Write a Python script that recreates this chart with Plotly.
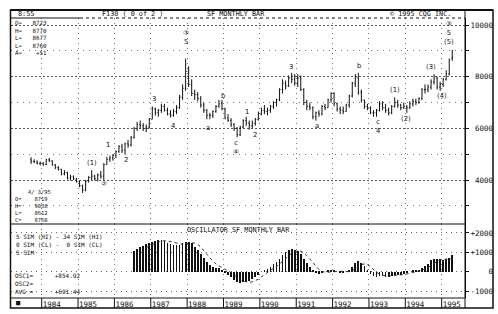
import plotly.graph_objects as go
import pandas as pd

W, H = 498, 314

# ---------------- data ----------------
months = pd.period_range("1983-09", "1995-04", freq="M")

opens = [4780, 4720, 4700, 4640,
         4650, 4600, 4780, 4740, 4580, 4480, 4420, 4240, 4300, 4080, 4120, 4050,
         3940, 3780, 3620, 3950, 4100, 4150, 4050, 4200, 4150, 4600, 4800, 4850,
         4950, 5100, 5300, 5150, 5400, 5350, 5650, 6000, 6150, 6100, 6000, 6050,
         6350, 6750, 6600, 6700, 6850, 6700, 6550, 6500, 6650, 6800, 7200, 7550,
         8200, 7700, 7350, 7300, 7150, 6900, 6700, 6500, 6500, 6650, 6850, 6950,
         6750, 6400, 6300, 6150, 6000, 5750, 6050, 6300, 6200, 6100, 6200, 6350,
         6550, 6700, 6650, 6700, 6850, 7000, 7100, 7500, 7750, 7650, 7950, 7900,
         7750, 7950, 7500, 7000, 6850, 6800, 6450, 6600, 6550, 6850, 6800, 7100,
         7350, 6950, 6750, 6700, 6650, 6900, 7250, 7750, 7950, 7400, 7100, 6850,
         6800, 6600, 6600, 6700, 6950, 6800, 6700, 6600, 6850, 7000, 6900, 6800,
         6850, 6800, 6950, 7050, 7000, 7150, 7500, 7500, 7600, 7800, 7950, 7600,
         7700, 7900, 8100, 8719]
highs = [4880, 4800, 4760, 4720,
         4700, 4820, 4860, 4760, 4620, 4540, 4430, 4380, 4320, 4200, 4180, 4080,
         3980, 3820, 4000, 4150, 4380, 4200, 4250, 4350, 4650, 4900, 4950, 5000,
         5150, 5350, 5400, 5450, 5550, 5700, 6050, 6250, 6300, 6200, 6150, 6400,
         6850, 6800, 6750, 6950, 6950, 6800, 6700, 6750, 6900, 7300, 7700, 8700,
         8400, 7900, 7500, 7400, 7250, 7000, 6750, 6600, 6700, 6900, 7100, 7100,
         6800, 6550, 6400, 6200, 6050, 6100, 6350, 6450, 6300, 6300, 6400, 6650,
         6800, 6900, 6800, 6900, 7050, 7150, 7550, 7900, 7850, 8050, 8150, 8100,
         8100, 8050, 7550, 7100, 7000, 6850, 6650, 6700, 6900, 6950, 7150, 7400,
         7400, 7000, 6850, 6850, 6950, 7300, 7800, 8100, 8150, 7500, 7100, 6950,
         6850, 6700, 6750, 7050, 7050, 6950, 6800, 6900, 7200, 7100, 6950, 7000,
         6900, 7050, 7150, 7150, 7200, 7550, 7700, 7700, 7900, 8100, 8000, 7800,
         7950, 8250, 8700, 9038]
lows = [4620, 4650, 4600, 4560,
        4550, 4580, 4700, 4560, 4420, 4360, 4180, 4180, 4020, 3980, 4000, 3900,
        3720, 3500, 3560, 3900, 4000, 3980, 3950, 4050, 4000, 4600, 4700, 4750,
        4850, 5050, 5050, 5000, 5250, 5300, 5600, 5900, 6000, 5900, 5850, 6000,
        6350, 6500, 6450, 6600, 6650, 6500, 6420, 6450, 6550, 6750, 7100, 7450,
        7600, 7250, 7100, 7050, 6800, 6600, 6350, 6350, 6400, 6600, 6800, 6700,
        6350, 6250, 6050, 5900, 5650, 5700, 6000, 6100, 5950, 6000, 6100, 6300,
        6500, 6550, 6500, 6600, 6750, 6850, 7050, 7350, 7500, 7600, 7750, 7650,
        7600, 7450, 6900, 6700, 6700, 6350, 6300, 6450, 6500, 6700, 6800, 7000,
        6850, 6650, 6550, 6550, 6650, 6800, 7200, 7600, 7300, 7000, 6750, 6700,
        6550, 6450, 6450, 6650, 6700, 6600, 6500, 6550, 6800, 6800, 6700, 6750,
        6600, 6750, 6850, 6900, 6950, 7100, 7350, 7400, 7500, 7700, 7500, 7450,
        7600, 7850, 8050, 8612]
closes = [4720, 4700, 4640, 4650,
          4600, 4780, 4740, 4580, 4480, 4420, 4240, 4300, 4080, 4120, 4050, 3940,
          3780, 3620, 3950, 4100, 4150, 4050, 4200, 4150, 4600, 4800, 4850, 4950,
          5100, 5300, 5150, 5400, 5350, 5650, 6000, 6150, 6100, 6000, 6050, 6350,
          6750, 6600, 6700, 6850, 6700, 6550, 6500, 6650, 6800, 7200, 7550, 8200,
          7700, 7350, 7300, 7150, 6900, 6700, 6500, 6500, 6650, 6850, 6950, 6750,
          6400, 6300, 6150, 6000, 5750, 6050, 6300, 6200, 6100, 6200, 6350, 6550,
          6700, 6650, 6700, 6850, 7000, 7100, 7500, 7750, 7650, 7950, 7900, 7750,
          7950, 7500, 7000, 6850, 6800, 6450, 6600, 6550, 6850, 6800, 7100, 7350,
          6950, 6750, 6700, 6650, 6900, 7250, 7750, 7950, 7400, 7100, 6850, 6800,
          6600, 6600, 6700, 6950, 6800, 6700, 6600, 6850, 7000, 6900, 6800, 6850,
          6800, 6950, 7050, 7000, 7150, 7500, 7500, 7600, 7800, 7950, 7600, 7700,
          7900, 8100, 8650, 8760]

osc_months = pd.period_range("1986-07", "1995-04", freq="M")
osc_vals = [1050, 1150, 1250, 1330, 1420, 1500,
            1560, 1600, 1630, 1650, 1580, 1500, 1420, 1380, 1380, 1400, 1480, 1550,
            1560, 1500, 1300, 1100, 900, 700, 500, 350, 250, 200, 180, 100,
            -50, -150, -300, -450, -550, -600, -560, -550, -500, -400, -300, -150,
            0, 100, 150, 250, 380, 500, 650, 850, 1000, 1100, 1150, 1100,
            1050, 900, 650, 450, 250, 50, -50, -100, -50, 0, 50, 80,
            50, 0, -50, -50, 0, 100, 250, 450, 550, 450, 300, 100,
            -100, -200, -250, -200, -200, -250, -250, -200, -150, -150, -150, -100,
            -50, 0, 50, 50, 100, 200, 300, 420, 600, 650, 680, 650,
            620, 640, 700, 855]
avg_months = pd.period_range("1986-11", "1995-04", freq="M")
avg_vals = [1240, 1330,
            1412, 1482, 1542, 1588, 1604, 1592, 1556, 1506, 1452, 1416, 1412, 1438,
            1474, 1498, 1478, 1402, 1272, 1112, 900, 710, 540, 400, 296, 216,
            136, 56, -44, -170, -300, -410, -492, -542, -552, -522, -462, -392,
            -270, -150, -40, 70, 176, 276, 386, 526, 676, 820, 950, 1040,
            1080, 1060, 970, 830, 660, 480, 270, 120, 20, -30, -30, -14,
            26, 36, 26, 6, -10, 0, 50, 150, 270, 360, 400, 370,
            260, 110, -30, -130, -190, -220, -230, -220, -210, -200, -180, -150,
            -120, -90, -50, -10, 30, 80, 140, 214, 324, 434, 530, 600,
            640, 648, 658, 693]

years = list(range(1984, 1996))
price_ticks = [4000, 6000, 8000, 10000]
price_minor = [3000, 5000, 7000, 9000]
osc_ticks = [-1000, 0, 1000, 2000]
osc_labels = ["-1000", "0", "+1000", "+2000"]

# wave labels: (lines stacked top to bottom, x in years, price at centre)
wave_labels = [
    (["(1)"], 1985.38, 4660), (["\u2461"], 1985.71, 3845),
    (["1"], 1985.83, 5355), (["2"], 1986.32, 4774),
    (["3"], 1987.09, 7135), (["4"], 1987.61, 6090),
    (["\u2462", "5"], 1987.98, 9516),
    (["a"], 1988.58, 6013), (["b"], 1988.99, 7252),
    (["c", "\u2463"], 1989.35, 5277),
    (["1"], 1989.65, 6632), (["2"], 1989.87, 5742),
    (["3"], 1990.86, 8374), (["a"], 1991.57, 6090),
    (["b"], 1992.73, 8413), (["c", "4"], 1993.26, 6071),
    (["(1)"], 1993.72, 7484), (["(2)"], 1994.02, 6361),
    (["(3)"], 1994.71, 8374), (["(4)"], 1995.01, 7252),
    (["\u2462", "5", "(5)"], 1995.2, 9690),
]

# ---------------- helpers ----------------
def X(px):
    return px / W

def Y(py):
    return 1 - py / H

def yr_at(px):
    return 1984 + (px - 41.7) / 36.36

bar_x = [p.year + (p.month - 0.5) / 12 for p in months]
osc_x = [p.year + (p.month - 0.5) / 12 for p in osc_months]
avg_x = [p.year + (p.month - 0.5) / 12 for p in avg_months]

FONT = "DejaVu Sans Mono"
INK = "#111111"
NB = "\u00a0"

def pad(s, n=5):
    return NB * (n - len(s)) + s

fig = go.Figure()
fig.add_trace(go.Ohlc(
    x=bar_x, open=opens, high=highs, low=lows, close=closes,
    increasing=dict(line=dict(color=INK, width=1)),
    decreasing=dict(line=dict(color=INK, width=1)),
    tickwidth=0.3, xaxis="x", yaxis="y", showlegend=False, hoverinfo="skip"))
fig.add_trace(go.Bar(
    x=osc_x, y=osc_vals, width=0.021, marker=dict(color=INK, line=dict(width=0)),
    xaxis="x2", yaxis="y2", showlegend=False, hoverinfo="skip"))
fig.add_trace(go.Scatter(
    x=avg_x, y=avg_vals, mode="lines", line=dict(color="#333333", width=1, dash="dot"),
    xaxis="x2", yaxis="y2", showlegend=False, hoverinfo="skip"))

xr = [yr_at(11), yr_at(465)]
xdom = [X(11), X(465)]
grid_x = dict(showgrid=True, gridcolor="#777777", gridwidth=1, griddash="1px,4px")

fig.update_layout(
    width=W, height=H, margin=dict(l=0, r=0, t=0, b=0),
    paper_bgcolor="white", plot_bgcolor="white",
    font=dict(family=FONT, size=7.5, color=INK),
    bargap=0,
    xaxis=dict(domain=xdom, range=xr, anchor="y", tickvals=years, showticklabels=False,
               ticks="", zeroline=False, rangeslider=dict(visible=False), **grid_x),
    yaxis=dict(domain=[Y(224), Y(18)], range=[2297, 10271], side="right", anchor="x",
               tickvals=price_ticks, ticktext=[pad(str(v)) for v in price_ticks],
               ticks="outside", ticklen=3, tickcolor=INK, showline=True, linecolor=INK,
               linewidth=1, zeroline=False,
               showgrid=True, gridcolor="#555555", gridwidth=1, griddash="2px,2px",
               minor=dict(tickvals=price_minor, ticks="outside", ticklen=3, tickcolor=INK,
                          showgrid=True, gridcolor="#777777", griddash="1px,5px")),
    xaxis2=dict(domain=xdom, range=xr, anchor="y2", tickvals=years,
                ticktext=[str(y) for y in years], ticks="", ticklabelshift=10,
                zeroline=False, tickfont=dict(family=FONT, size=7.5, color=INK), **grid_x),
    yaxis2=dict(domain=[Y(298), Y(224)], range=[-1362, 2465], side="right", anchor="x2",
                tickvals=osc_ticks, ticktext=[pad(s) for s in osc_labels],
                ticks="outside", ticklen=3, tickcolor=INK, showline=True, linecolor=INK,
                linewidth=1, zeroline=False,
                showgrid=True, gridcolor="#666666", gridwidth=1, griddash="1px,4px"),
)

shapes = []
def hline(y, x0, x1, w=1, dash=None):
    shapes.append(dict(type="line", xref="paper", yref="paper", x0=X(x0), x1=X(x1),
                       y0=Y(y), y1=Y(y), line=dict(color=INK, width=w, dash=dash)))
def vline(x, y0, y1, w=1):
    shapes.append(dict(type="line", xref="paper", yref="paper", x0=X(x), x1=X(x),
                       y0=Y(y0), y1=Y(y1), line=dict(color=INK, width=w)))

shapes.append(dict(type="rect", xref="paper", yref="paper", x0=X(10.5), x1=X(493),
                   y0=Y(308), y1=Y(10), line=dict(color=INK, width=1.5)))
hline(10, 10.5, 493, 2)
vline(465, 10, 308)
hline(18, 10.5, 80)
hline(18, 80, 465, 1, "dot")
hline(224, 10.5, 465)
hline(298, 10.5, 465)
for yv in years:
    shapes.append(dict(type="line", xref="x2", yref="paper", x0=yv, x1=yv,
                       y0=Y(308), y1=Y(298), line=dict(color=INK, width=1)))
fig.update_layout(shapes=shapes)

ann = []
def txt(s, px, py, anchor="left", size=7.5, yanchor="middle"):
    ann.append(dict(text=s, x=X(px), y=Y(py), xref="paper", yref="paper",
                    xanchor=anchor, yanchor=yanchor, align=anchor if anchor != "center" else "center",
                    showarrow=False, borderpad=0,
                    font=dict(family=FONT, size=size, color=INK)))

def row(key, val, px0, pxv, size):
    cw = 0.602 * size
    n = max(1, round((pxv - px0) / cw) - len(key))
    return key + NB * n + val.replace(" ", NB)

# header strip
txt("8:55", 17, 14.2, size=6.8)
txt("F130 ( 0 of 2 )".replace(" ", NB), 101, 14.2, size=6.8)
txt("SF MONTHLY BAR".replace(" ", NB), 206, 14.2, size=6.8)
txt("\u00a9 1995 CQG INC.".replace(" ", NB), 389, 14.2, size=6.8)

# quote box top-left
s1 = 5.8
lines = [row(k, v, 14, 33, s1) for k, v in
         [("O=", "8723"), ("H=", "8770"), ("L=", "8677"), ("L=", "8760"), ("A=", " +51")]]
txt("<br>".join(lines), 14, 18.8, size=s1, yanchor="top")

# bottom-left quote
s2 = 5.4
lines = [NB * 4 + "4/ 3/95".replace(" ", NB)]
lines += [row(k, v, 14, 33, s2) for k, v in
          [("O=", "8719"), ("H=", "9038"), ("L=", "8612"), ("C=", "8760")]]
txt("<br>".join(lines), 14, 187.5, size=s2, yanchor="top")

# oscillator panel
txt("OSCILLATOR SF MONTHLY BAR".replace(" ", NB), 238.5, 229.6, anchor="center", size=6.8)
s3 = 6.0
osc_desc = ["5 SIM (HI) - 34 SIM (HI)", "0 SIM (CL) -  0 SIM (CL)", "5 SIM"]
txt("<br>".join(l.replace(" ", NB) for l in osc_desc), 15, 231.5, size=s3, yanchor="top")
osc_read = [row("OSC1=", "+854.92", 14, 55, s3), "OSC2=", row("AVG =", "+691.44", 14, 55, s3)]
txt("<br>".join(l.replace(" ", NB) for l in osc_read), 14, 270.5, size=s3, yanchor="top")
txt("\u25a0", 15, 303, size=7)

sw = 6.8
for parts, xv, yv in wave_labels:
    ann.append(dict(text="<br>".join(parts), x=xv, y=yv, xref="x", yref="y", showarrow=False,
                    xanchor="center", yanchor="middle", borderpad=0,
                    font=dict(family="DejaVu Sans", size=sw, color=INK)))

fig.update_layout(annotations=ann)
fig.write_html("out.html")
